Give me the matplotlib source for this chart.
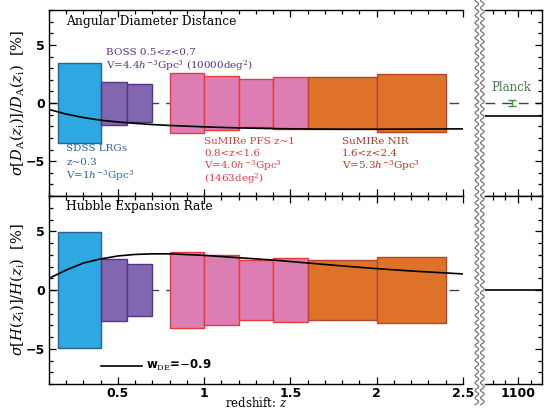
import numpy as np
import matplotlib
matplotlib.use('Agg')
import matplotlib.pyplot as plt
from matplotlib.ticker import MultipleLocator
from matplotlib.lines import Line2D

plt.rcParams['font.family'] = 'DejaVu Serif'
plt.rcParams['mathtext.fontset'] = 'dejavuserif'

# redshift bins (low / high edges) and errors in percent
z_lo = [0.15, 0.4, 0.55, 0.8, 1.0, 1.2, 1.4, 1.6, 2.0]
z_hi = [0.4, 0.55, 0.7, 1.0, 1.2, 1.4, 1.6, 2.0, 2.4]
sigma_da = [3.45, 1.85, 1.6, 2.6, 2.35, 2.05, 2.25, 2.2, 2.5]
sigma_h = [4.9, 2.6, 2.2, 3.25, 2.95, 2.55, 2.7, 2.55, 2.8]
survey = ['sdss', 'boss', 'boss', 'pfs', 'pfs', 'pfs', 'pfs', 'nir', 'nir']

face = {'sdss': '#2ea8e0', 'boss': '#8166b0', 'pfs': '#dc7eb4', 'nir': '#dd7228'}
edge = {'sdss': '#2c5f9e', 'boss': '#54338a', 'pfs': '#e83a3a', 'nir': '#b5452f'}

# w_DE = -0.9 model curves
z_curve = [0.1, 0.2, 0.3, 0.4, 0.5, 0.6, 0.7, 0.8, 1.0, 1.2, 1.4, 1.6, 1.8, 2.0, 2.2, 2.5]
da_curve = [-0.55, -0.95, -1.25, -1.48, -1.63, -1.75, -1.85, -1.93, -2.05, -2.14,
            -2.2, -2.23, -2.25, -2.25, -2.24, -2.22]
h_curve = [1.0, 1.7, 2.3, 2.65, 2.9, 3.03, 3.08, 3.08, 2.95, 2.75, 2.55, 2.3,
           2.05, 1.82, 1.62, 1.37]

# CMB point
z_cmb = [1074, 1119]
da_cmb = [-1.1, -1.1]
h_cmb = [0.0, 0.0]
planck_z = 1095
planck_err = 0.25

fig = plt.figure(figsize=(5.45, 4.11), dpi=100)
ax1 = fig.add_axes([0.0899, 0.523, 0.7596, 0.4526])
ax2 = fig.add_axes([0.0899, 0.0657, 0.7596, 0.4573])
ax3 = fig.add_axes([0.890, 0.523, 0.1046, 0.4526])
ax4 = fig.add_axes([0.890, 0.0657, 0.1046, 0.4573])

tickfont = {'family': 'DejaVu Sans', 'size': 9, 'weight': 'bold'}


def style(ax, left=True):
    ax.set_ylim(-8, 8)
    ax.yaxis.set_major_locator(MultipleLocator(5))
    ax.yaxis.set_minor_locator(MultipleLocator(1))
    ax.tick_params(which='both', direction='in', top=True, bottom=True,
                   left=left, right=not left, labelleft=left, labelright=False,
                   width=0.9, pad=3)
    ax.tick_params(which='major', length=5)
    ax.tick_params(which='minor', length=3)
    if left:
        ax.spines['right'].set_visible(False)
    else:
        ax.spines['left'].set_visible(False)
    for s in ax.spines.values():
        s.set_linewidth(1.0)
    for lab in ax.get_xticklabels() + ax.get_yticklabels():
        lab.set_fontproperties(matplotlib.font_manager.FontProperties(**tickfont))


for ax, sig, curve in [(ax1, sigma_da, da_curve), (ax2, sigma_h, h_curve)]:
    ax.set_xlim(0.1, 2.5)
    ax.axhline(0, color='#444444', lw=1.0, ls=(0, (7, 5)), zorder=0)
    for lo, hi, s, sv in zip(z_lo, z_hi, sig, survey):
        ax.bar(lo, 2 * s, bottom=-s, width=hi - lo, align='edge',
               color=face[sv], edgecolor=edge[sv], lw=1.0, zorder=2)
    ax.plot(z_curve, curve, color='black', lw=1.2, zorder=3)
    ax.xaxis.set_major_locator(MultipleLocator(0.5))
    ax.xaxis.set_minor_locator(MultipleLocator(0.1))
    ax.set_xticks([0.5, 1, 1.5, 2, 2.5])
    ax.set_xticklabels(['0.5', '1', '1.5', '2', '2.5'])
    style(ax)

ax1.tick_params(labelbottom=False)
ax2.tick_params(axis='x', pad=2)

for ax in (ax3, ax4):
    ax.set_xlim(1074, 1119)
    ax.set_xticks([1100])
    ax.set_xticklabels(['1100'])
    ax.xaxis.set_minor_locator(MultipleLocator(10))
    style(ax, left=False)
ax3.tick_params(labelbottom=False)
ax4.tick_params(axis='x', pad=2)

ax3.axhline(0, color='#444444', lw=1.0, ls=(0, (7, 5)), zorder=0)
ax3.plot(z_cmb, da_cmb, color='black', lw=1.2)
ax4.plot(z_cmb, h_cmb, color='black', lw=1.2)
ax3.errorbar([planck_z], [0], yerr=[planck_err], color='#3a9a3a', capsize=3,
             lw=1.0, capthick=1.0, zorder=3)
ax3.text(planck_z, 0.75, 'Planck', color='#4a7a4a', fontsize=8.5,
         ha='center', va='bottom')

ax1.set_ylabel(r'$\sigma[D_{\rm A}(z_{\rm i})]/D_{\rm A}(z_{\rm i})$  [%]', fontsize=10.5)
ax2.set_ylabel(r'$\sigma[H(z_{\rm i})]/H(z_{\rm i})$  [%]', fontsize=10.5)
ax1.yaxis.set_label_coords(-0.056, 0.5)
ax2.yaxis.set_label_coords(-0.056, 0.5)
ax2.set_xlabel(r'redshift: $z$', fontsize=8.5, labelpad=-2.5)

ax1.text(0.2, 7.0, 'Angular Diameter Distance', fontsize=8.8, va='center')
ax2.text(0.2, 7.1, 'Hubble Expansion Rate', fontsize=8.8, va='center')

fs = 7.5
ax1.text(0.43, 4.35, 'BOSS 0.5<z<0.7', color='#54338a', fontsize=fs, va='center')
ax1.text(0.43, 3.25, r'V=4.4$h^{-3}$Gpc$^3$ (10000deg$^2$)', color='#54338a',
         fontsize=fs, va='center')
ax1.text(0.2, -3.95, 'SDSS LRGs', color='#2c5f9e', fontsize=fs, va='center')
ax1.text(0.2, -5.1, 'z~0.3', color='#2c5f9e', fontsize=fs, va='center')
ax1.text(0.2, -6.25, r'V=1$h^{-3}$Gpc$^3$', color='#2c5f9e', fontsize=fs, va='center')
ax1.text(1.0, -3.35, 'SuMIRe PFS z~1', color='#e83a3a', fontsize=fs, va='center')
ax1.text(1.0, -4.35, '0.8<z<1.6', color='#e83a3a', fontsize=fs, va='center')
ax1.text(1.0, -5.4, r'V=4.0$h^{-3}$Gpc$^3$', color='#e83a3a', fontsize=fs, va='center')
ax1.text(1.0, -6.55, r'(1463deg$^2$)', color='#e83a3a', fontsize=fs, va='center')
ax1.text(1.8, -3.3, 'SuMIRe NIR', color='#b5372a', fontsize=fs, va='center')
ax1.text(1.8, -4.3, '1.6<z<2.4', color='#b5372a', fontsize=fs, va='center')
ax1.text(1.8, -5.35, r'V=5.3$h^{-3}$Gpc$^3$', color='#b5372a', fontsize=fs, va='center')

# legend entry for the model curve
ax2.plot([0.4, 0.64], [-6.45, -6.45], color='black', lw=1.2)
ax2.text(0.66, -6.45, r'w$_{\rm DE}$=$-$0.9', fontsize=8.5, va='center',
         family='DejaVu Sans', weight='bold')

# axis break: two wavy lines
yy = np.linspace(0.015, 1.0, 400)
wave = 0.0035 * np.sin(yy * 411 / 7.5 * 2 * np.pi)
for xc in (0.875, 0.885):
    fig.add_artist(Line2D(xc + wave, yy, color='#777777', lw=0.9))

fig.savefig('out.png', dpi=100)
